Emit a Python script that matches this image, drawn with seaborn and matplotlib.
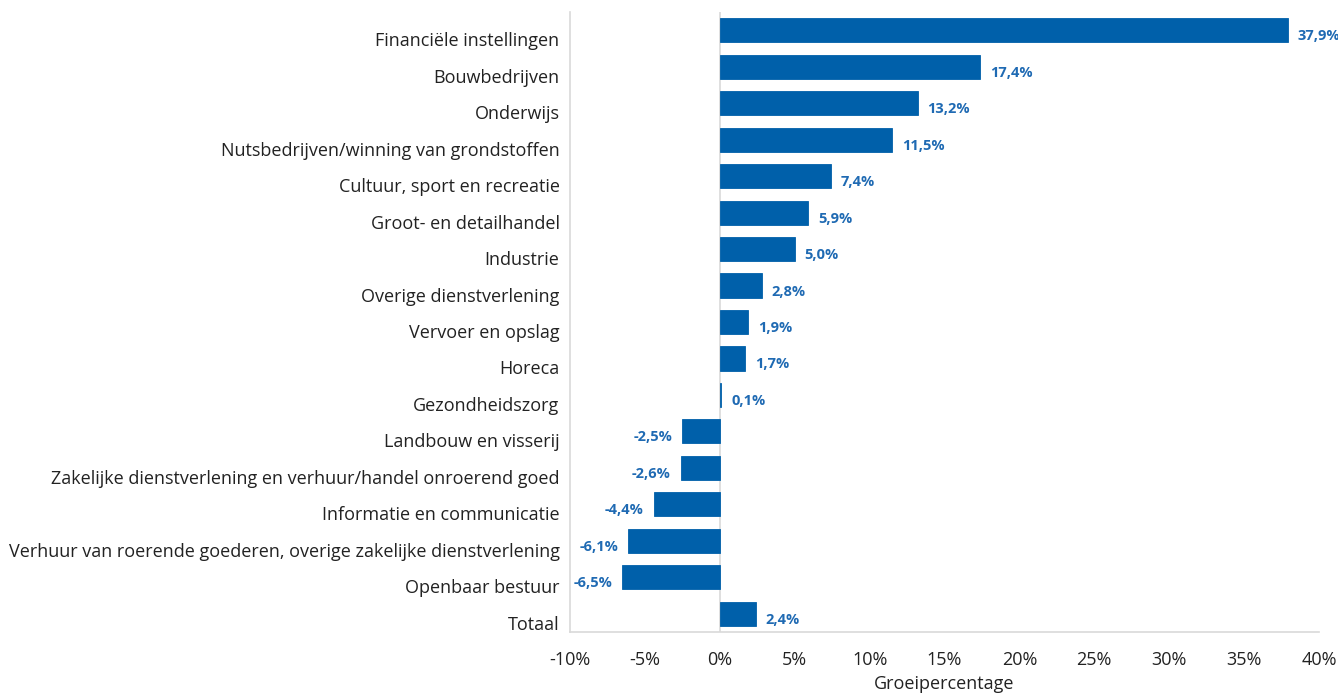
import matplotlib
matplotlib.use("Agg")
import matplotlib.pyplot as plt
import seaborn as sns
import pandas as pd
from matplotlib.ticker import FixedLocator
from matplotlib.transforms import offset_copy, ScaledTranslation

categories = [
    "Financiële instellingen",
    "Bouwbedrijven",
    "Onderwijs",
    "Nutsbedrijven/winning van grondstoffen",
    "Cultuur, sport en recreatie",
    "Groot- en detailhandel",
    "Industrie",
    "Overige dienstverlening",
    "Vervoer en opslag",
    "Horeca",
    "Gezondheidszorg",
    "Landbouw en visserij",
    "Zakelijke dienstverlening en verhuur/handel onroerend goed",
    "Informatie en communicatie",
    "Verhuur van roerende goederen, overige zakelijke dienstverlening",
    "Openbaar bestuur",
    "Totaal",
]
values = [37.9, 17.4, 13.2, 11.5, 7.4, 5.9, 5.0, 2.8, 1.9, 1.7, 0.1,
          -2.5, -2.6, -4.4, -6.1, -6.5, 2.4]
xticks = [-10, -5, 0, 5, 10, 15, 20, 25, 30, 35, 40]

df = pd.DataFrame({"cat": categories, "val": values})

sns.set_style("white")
plt.rcParams['font.family'] = ['Open Sans', 'DejaVu Sans']

fig = plt.figure(figsize=(13.38, 6.96), dpi=100)
ax = fig.add_axes([570/1338, 1-632/696, (1319-570)/1338, 620/696])

bar_color = "#0060AA"
label_color = "#1F6AB3"
sns.barplot(data=df, x="val", y="cat", orient="h", color=bar_color,
            width=0.66, ax=ax, saturation=1, edgecolor=bar_color, linewidth=0.6)

ax.set_xlim(-10, 40)
ax.set_ylim(16.5, -0.5)
ax.xaxis.set_major_locator(FixedLocator(xticks))
ax.set_xticklabels([f"{t}%" for t in xticks], fontsize=13, color="#222222")
ax.tick_params(axis="x", direction="in", length=6, color="#d9d9d9", width=1.2, pad=14)
ax.tick_params(axis="y", length=0, pad=7.5, labelsize=13, labelcolor="#222222")
shift = ScaledTranslation(0, -9/100, fig.dpi_scale_trans)
for lab in ax.get_yticklabels():
    lab.set_transform(lab.get_transform() + shift)
ax.set_ylabel("")
ax.set_xlabel("Groeipercentage", fontsize=13, color="#222222", labelpad=4)

for s in ["top", "right"]:
    ax.spines[s].set_visible(False)
for s in ["left", "bottom"]:
    ax.spines[s].set_color("#d9d9d9")
    ax.spines[s].set_linewidth(1.2)
ax.axvline(0, color="#d9d9d9", lw=1.2, zorder=0)

for i, v in enumerate(values):
    txt = f"{v:.1f}%".replace(".", ",")
    if v >= 0:
        tr = offset_copy(ax.transData, fig=fig, x=10, y=-6, units="dots")
        ax.text(v, i, txt, transform=tr, ha="left", va="center",
                fontsize=10.5, fontweight="bold", color=label_color)
    else:
        tr = offset_copy(ax.transData, fig=fig, x=-10, y=-6, units="dots")
        ax.text(v, i, txt, transform=tr, ha="right", va="center",
                fontsize=10.5, fontweight="bold", color=label_color)

fig.savefig("out.png", dpi=100)
